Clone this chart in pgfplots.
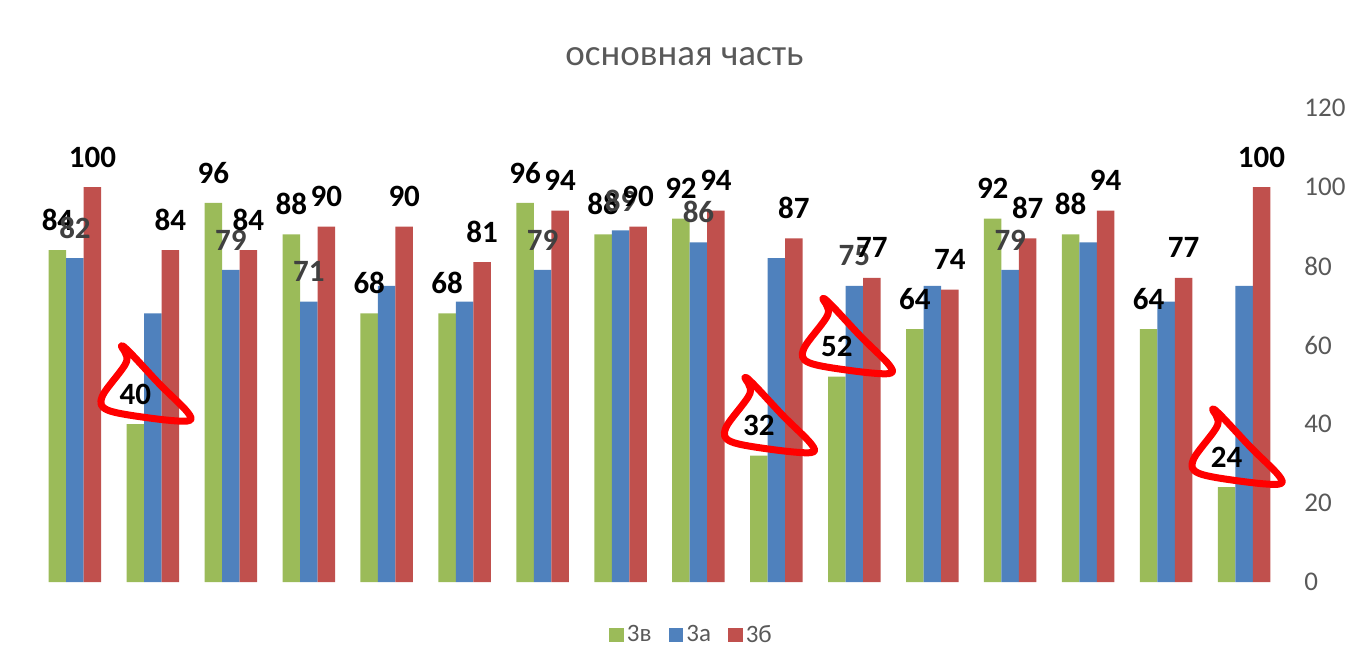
\documentclass[border=0pt]{standalone}
\usepackage{pgfplots}
\pgfplotsset{compat=1.18}
\usepackage{fontspec}
\setmainfont{Carlito}
\definecolor{cg}{HTML}{9BBB59}
\definecolor{cb}{HTML}{4F81BD}
\definecolor{cr}{HTML}{C0504D}
\definecolor{tg}{HTML}{595959}
\definecolor{lg}{HTML}{404040}
\pgfplotsset{sqlegend/.style={legend image code/.code={\fill[##1] (0pt,-3.7pt) rectangle (7.4pt,3.7pt);}}}
\begin{document}
\begin{tikzpicture}
\path[use as bounding box] (0,0) rectangle (674.5pt,333pt);
\begin{axis}[
  at={(18pt,42pt)}, anchor=south west,
  scale only axis, width=623.5pt, height=237pt,
  xmin=0.5, xmax=16.5, ymin=0, ymax=120,
  ybar=0pt, bar width=8.75pt,
  axis x line=none,
  axis y line*=right,
  y axis line style={draw=none},
  ytick={0,20,...,120},
  major tick length=0pt,
  yticklabel style={font=\fontsize{13.5}{15}\selectfont, text=tg, inner sep=0pt, anchor=west, xshift=10.5pt},
  /pgf/number format/assume math mode=true,
  point meta=explicit symbolic,
  nodes near coords={\pgfplotspointmeta},
  nodes near coords style={font=\fontsize{15.5}{17}\selectfont\bfseries, anchor=center, inner sep=0pt, yshift=15pt},
  title={основная часть},
  title style={at={(0.52,1.082)}, anchor=center, font=\fontsize{18.5}{21}\selectfont, text=tg},
  legend style={at={(0.526,-0.112)}, anchor=center, legend columns=3, draw=none, fill=none,
    font=\fontsize{12.5}{14}\selectfont, text=tg, nodes={inner sep=1.5pt},
    /tikz/every even column/.append style={column sep=7pt}},
]
\addplot[fill=cg, draw=none, sqlegend, nodes near coords style={text=black}] coordinates {
(1,84)[84] (2,40)[40] (3,96)[96] (4,88)[88] (5,68)[68] (6,68)[68] (7,96)[96] (8,88)[88]
(9,92)[92] (10,32)[32] (11,52)[52] (12,64)[64] (13,92)[92] (14,88)[88] (15,64)[64] (16,24)[24]};
\addlegendentry{3в}
\addplot[fill=cb, draw=none, sqlegend, nodes near coords style={text=lg}] coordinates {
(1,82)[82] (2,68)[{}] (3,79)[79] (4,71)[71] (5,75)[{}] (6,71)[{}] (7,79)[79] (8,89)[89]
(9,86)[86] (10,82)[{}] (11,75)[75] (12,75)[{}] (13,79)[79] (14,86)[{}] (15,71)[{}] (16,75)[{}]};
\addlegendentry{3а}
\addplot[fill=cr, draw=none, sqlegend, nodes near coords style={text=black}] coordinates {
(1,100)[100] (2,84)[84] (3,84)[84] (4,90)[90] (5,90)[90] (6,81)[81] (7,94)[94] (8,90)[90]
(9,94)[94] (10,87)[87] (11,77)[77] (12,74)[74] (13,87)[87] (14,94)[94] (15,77)[77] (16,100)[100]};
\addlegendentry{3б}
\coordinate (s1) at (axis cs:2,40);
\coordinate (s2) at (axis cs:10,32);
\coordinate (s3) at (axis cs:11,52);
\coordinate (s4) at (axis cs:16,24);
\end{axis}
\foreach \s in {s1,s2,s3,s4}{
\begin{scope}[shift={(\s)}, xshift=-8.75pt, yshift=15pt]
\draw[red, line width=3.5pt, line join=round] plot[smooth cycle, tension=0.55] coordinates {
(-7pt,24pt) (-4.5pt,16pt) (-16.5pt,-1pt) (-14pt,-8pt) (7pt,-12pt) (26pt,-13.5pt) (26pt,-9pt) (12pt,5pt) (-2.5pt,20.5pt)};
\end{scope}}
\end{tikzpicture}
\end{document}
